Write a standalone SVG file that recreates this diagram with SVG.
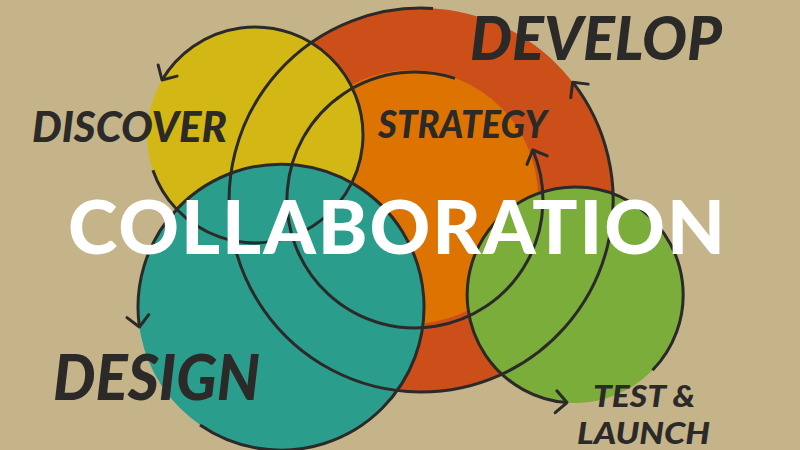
<svg xmlns="http://www.w3.org/2000/svg" width="800" height="450" viewBox="0 0 800 450">
<style>
.ol{fill:none;stroke:#2b2a29;stroke-width:3;marker-end:url(#ah)}
.lbl{font-family:Lato,"Liberation Sans",sans-serif;font-weight:900;font-style:italic;fill:#2b2a29}
.big{font-family:Lato,"Liberation Sans",sans-serif;font-weight:900;fill:#ffffff}
</style>
<defs>
<marker id="ah" markerUnits="userSpaceOnUse" markerWidth="30" markerHeight="30" refX="0" refY="0" viewBox="-15 -15 30 30" orient="auto" overflow="visible">
<path d="M-11,-11 L0,0 L-11,11" fill="none" stroke="#2b2a29" stroke-width="3" stroke-linecap="round" stroke-linejoin="round"/>
</marker>
</defs>
<rect width="800" height="450" fill="#c5b48a"/>
<g id="develop">
<circle cx="421" cy="200" r="192" fill="#cc4e18"/>
</g>
<g id="strategy">
<circle cx="411" cy="197" r="127" fill="#dd7300"/>
</g>
<g id="discover">
<circle cx="255" cy="135" r="108" fill="#d3b714"/>
</g>
<g id="design">
<circle cx="281" cy="307" r="143" fill="#2a9d8c"/>
</g>
<g id="test-launch">
<circle cx="575" cy="295" r="108" fill="#7aad3a"/>
</g>
<g id="connectors">
<path class="ol" d="M152.9,170.2 A108,108 0 1 0 162,80"/>
<path class="ol" d="M433,8.4 A192,192 0 1 0 572.7,82.2"/>
<path class="ol" d="M455,78.4 A128,128 0 1 0 532.8,150"/>
<path class="ol" d="M200,425 A143,143 0 1 0 139.4,327"/>
<path class="ol" d="M652.5,370.3 A108,108 0 1 0 567,402.6"/>
</g>
<g id="labels">
<text class="lbl" x="32" y="142" font-size="42" textLength="195" lengthAdjust="spacingAndGlyphs">DISCOVER</text>
<text class="lbl" x="470" y="60" font-size="60" textLength="252" lengthAdjust="spacingAndGlyphs">DEVELOP</text>
<text class="lbl" x="378" y="138" font-size="37" textLength="169" lengthAdjust="spacingAndGlyphs">STRATEGY</text>
<text class="lbl" x="53" y="400" font-size="62" textLength="207" lengthAdjust="spacingAndGlyphs">DESIGN</text>
<text class="lbl" x="593" y="407" font-size="30" textLength="102" lengthAdjust="spacingAndGlyphs">TEST &amp;</text>
<text class="lbl" x="577" y="444" font-size="30" textLength="133" lengthAdjust="spacingAndGlyphs">LAUNCH</text>
</g>
<g id="title">
<text class="big" x="68" y="254" font-size="75" textLength="657" lengthAdjust="spacing">COLLABORATION</text>
</g>
</svg>
